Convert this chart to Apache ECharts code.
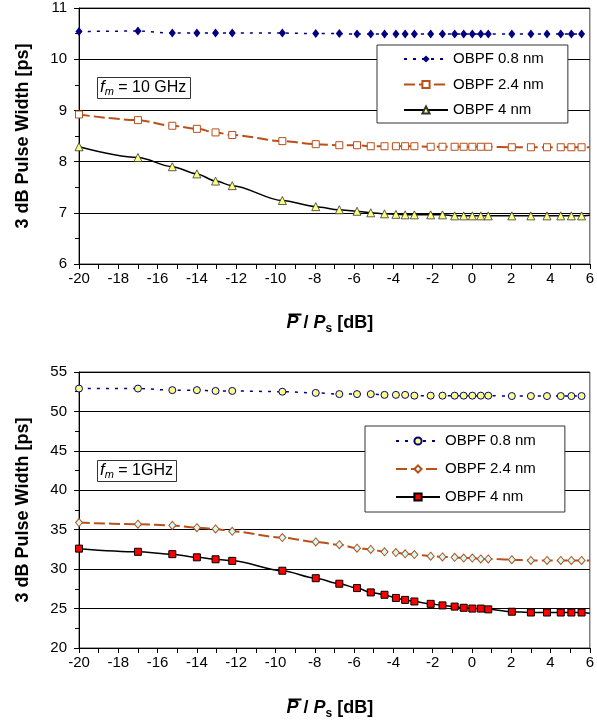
<!DOCTYPE html>
<html>
<head>
<meta charset="utf-8">
<style>
  html, body { margin: 0; padding: 0; background: #fff; }
  #chart { width: 597px; height: 725px; }
</style>
<script src="https://cdn.jsdelivr.net/npm/echarts@6/dist/echarts.min.js"></script>
</head>
<body>
<div id="chart"></div>
<script>
// Average power relative to saturation power, P / Ps [dB]
const pdB = [-20, -17, -15.25, -14, -13.05, -12.2, -9.65, -7.95, -6.75, -5.85,
  -5.15, -4.45, -3.87, -3.4, -2.93, -2.1, -1.5, -0.88, -0.42, 0.02,
  0.45, 0.83, 2.03, 3.0, 3.82, 4.52, 5.06, 5.58];

// 3 dB pulse width [ps], fm = 10 GHz
const w10_08 = [10.54, 10.55, 10.51, 10.51, 10.51, 10.51, 10.51, 10.50, 10.50, 10.49,
  10.49, 10.49, 10.49, 10.49, 10.49, 10.49, 10.49, 10.49, 10.49, 10.49,
  10.49, 10.49, 10.49, 10.49, 10.49, 10.49, 10.49, 10.49];
const w10_24 = [8.92, 8.81, 8.70, 8.64, 8.57, 8.52, 8.40, 8.34, 8.32, 8.32,
  8.30, 8.30, 8.30, 8.30, 8.30, 8.29, 8.29, 8.29, 8.29, 8.29,
  8.29, 8.29, 8.28, 8.28, 8.28, 8.28, 8.28, 8.28];
const w10_40 = [8.29, 8.08, 7.90, 7.76, 7.62, 7.53, 7.24, 7.12, 7.06, 7.03,
  7.00, 6.98, 6.97, 6.96, 6.96, 6.96, 6.96, 6.94, 6.94, 6.94,
  6.94, 6.94, 6.94, 6.94, 6.94, 6.94, 6.94, 6.94];

// 3 dB pulse width [ps], fm = 1 GHz
const w1_08 = [52.9, 52.9, 52.7, 52.7, 52.6, 52.6, 52.5, 52.35, 52.2, 52.2,
  52.2, 52.1, 52.1, 52.1, 52.0, 52.0, 52.0, 52.0, 52.0, 52.0,
  52.0, 52.0, 51.95, 51.95, 51.95, 51.95, 51.95, 51.95];
const w1_24 = [35.9, 35.7, 35.55, 35.25, 35.1, 34.8, 34.0, 33.45, 33.1, 32.65,
  32.5, 32.2, 32.1, 31.95, 31.85, 31.65, 31.55, 31.5, 31.4, 31.4,
  31.3, 31.3, 31.2, 31.1, 31.1, 31.1, 31.1, 31.1];
const w1_40 = [32.6, 32.2, 31.9, 31.5, 31.25, 31.05, 29.8, 28.85, 28.15, 27.6,
  27.05, 26.75, 26.35, 26.1, 25.9, 25.6, 25.4, 25.25, 25.1, 25.0,
  25.0, 24.9, 24.6, 24.5, 24.5, 24.5, 24.5, 24.5];

// Trend lines of the wider filters continue (without a marker) to the axis end
const tailX = 6;
const tail10_24 = 8.28, tail10_40 = 6.95;
const tail1_24 = 31.1, tail1_40 = 24.4;

const seriesNames = ['OBPF 0.8 nm', 'OBPF 2.4 nm', 'OBPF 4 nm'];
const boxLabels = ['10 GHz', '1GHz'];

const FONT = '"Liberation Sans", Arial, sans-serif';
const NAVY = '#000080';
const BROWN = '#B9501A';

function pts(ys, tailY) {
  const d = pdB.map((x, i) => [x, ys[i]]);
  if (tailY !== undefined) d.push({ value: [tailX, tailY], symbol: 'none' });
  return d;
}

function xAxisCfg(gi) {
  return {
    type: 'value', gridIndex: gi, min: -20, max: 6, interval: 2,
    axisLine: { show: true, onZero: false, lineStyle: { color: '#000', width: 1 } },
    axisTick: { show: true, length: 5, lineStyle: { color: '#000' } },
    minorTick: { show: true, splitNumber: 2, length: 5, lineStyle: { color: '#000' } },
    axisLabel: { color: '#000', fontSize: 15, fontFamily: FONT, margin: 7 },
    splitLine: { show: false }
  };
}

function yAxisCfg(gi, min, max, interval) {
  return {
    type: 'value', gridIndex: gi, min: min, max: max, interval: interval,
    name: '3 dB Pulse Width [ps]', nameLocation: 'middle', nameGap: 47,
    nameTextStyle: { color: '#000', fontSize: 18, fontWeight: 'bold', fontFamily: FONT },
    axisLine: { show: true, onZero: false, lineStyle: { color: '#000', width: 1 } },
    axisTick: { show: true, length: 5, lineStyle: { color: '#000' } },
    minorTick: { show: true, splitNumber: 2, length: 4, lineStyle: { color: '#000' } },
    axisLabel: { color: '#000', fontSize: 15, fontFamily: FONT, margin: 12 },
    splitLine: { show: true, lineStyle: { color: '#000', width: 1 } }
  };
}

function legendCfg(names, left, top, gap, pad) {
  return {
    orient: 'vertical', left: left, top: top,
    data: names.map(n => ({ name: n })),
    formatter: n => n.trim(),
    itemWidth: 44, itemHeight: 9, itemGap: gap,
    padding: pad,
    backgroundColor: '#fff', borderColor: '#333', borderWidth: 1, borderRadius: 0,
    textStyle: { color: '#000', fontSize: 15, fontFamily: FONT, lineHeight: 16 },
    selectedMode: false
  };
}

function fmBox(label, left, top) {
  return {
    text: '{f|f}{m|m}{t| = ' + label + '}',
    left: left, top: top,
    padding: [2, 4, 2, 3],
    borderColor: '#333', borderWidth: 1, backgroundColor: '#fff',
    textStyle: {
      fontWeight: 'normal',
      rich: {
        f: { fontSize: 17, fontStyle: 'italic', fontWeight: 'normal', fontFamily: FONT, color: '#000', lineHeight: 19 },
        m: { fontSize: 11, fontStyle: 'italic', fontWeight: 'normal', fontFamily: FONT, color: '#000', lineHeight: 11, verticalAlign: 'bottom' },
        t: { fontSize: 16, fontWeight: 'normal', fontFamily: FONT, color: '#000', lineHeight: 19 }
      }
    }
  };
}

// Axis title "P̄ / Ps [dB]" with an overline drawn over the first P
function xName(left, top) {
  return {
    type: 'group', left: left, top: top,
    children: [
      {
        type: 'text', x: 0, y: 0,
        style: {
          text: '{p|P}{b| / }{p|P}{s|s}{b| [dB]}',
          rich: {
            p: { fontSize: 18, fontWeight: 'bold', fontStyle: 'italic', fontFamily: FONT, fill: '#000', lineHeight: 22 },
            b: { fontSize: 18, fontWeight: 'bold', fontFamily: FONT, fill: '#000', lineHeight: 22 },
            s: { fontSize: 12, fontWeight: 'bold', fontFamily: FONT, fill: '#000', lineHeight: 14, verticalAlign: 'bottom' }
          }
        }
      },
      {
        type: 'line', x: 0, y: 0,
        shape: { x1: 2, y1: 2, x2: 15, y2: 2 },
        style: { stroke: '#000', lineWidth: 2 }
      }
    ]
  };
}

const chart = echarts.init(document.getElementById('chart'), null, { renderer: 'canvas' });

const namesTop = seriesNames;
const namesBottom = seriesNames.map(n => n + ' ');

chart.setOption({
  animation: false,
  backgroundColor: '#fff',
  textStyle: { fontFamily: FONT },
  title: [fmBox(boxLabels[0], 97, 76), fmBox(boxLabels[1], 97, 459)],
  grid: [
    { left: 79, top: 8, width: 512, height: 256, show: true, borderColor: '#404040', borderWidth: 1, backgroundColor: 'transparent' },
    { left: 79, top: 372, width: 511, height: 276, show: true, borderColor: '#404040', borderWidth: 1, backgroundColor: 'transparent' }
  ],
  xAxis: [xAxisCfg(0), xAxisCfg(1)],
  yAxis: [yAxisCfg(0, 6, 11, 1), yAxisCfg(1, 20, 55, 5)],
  legend: [
    legendCfg(namesTop, 377, 45, 9.5, [6, 24, 5, 26]),
    legendCfg(namesBottom, 365, 426, 12, [7, 29, 7, 30])
  ],
  graphic: [xName(286, 312), xName(286, 697)],
  series: [
    {
      name: namesTop[0], type: 'line', xAxisIndex: 0, yAxisIndex: 0,
      data: pts(w10_08), smooth: 0.3, smoothMonotone: 'x',
      symbol: 'diamond', symbolSize: [7, 9],
      itemStyle: { color: NAVY, borderColor: NAVY, borderWidth: 0 },
      lineStyle: { color: NAVY, width: 1.5, type: [3, 6] }
    },
    {
      name: namesTop[1], type: 'line', xAxisIndex: 0, yAxisIndex: 0,
      data: pts(w10_24, tail10_24), smooth: 0.3, smoothMonotone: 'x',
      symbol: 'rect', symbolSize: 7,
      itemStyle: { color: '#fff', borderColor: BROWN, borderWidth: 1 },
      lineStyle: { color: BROWN, width: 2, type: [11, 4] }
    },
    {
      name: namesTop[2], type: 'line', xAxisIndex: 0, yAxisIndex: 0,
      data: pts(w10_40, tail10_40), smooth: 0.3, smoothMonotone: 'x',
      symbol: 'triangle', symbolSize: 8,
      itemStyle: { color: '#FFFF80', borderColor: '#333', borderWidth: 0.8 },
      lineStyle: { color: '#000', width: 1.5, type: 'solid' }
    },
    {
      name: namesBottom[0], type: 'line', xAxisIndex: 1, yAxisIndex: 1,
      data: pts(w1_08), smooth: 0.3, smoothMonotone: 'x',
      symbol: 'circle', symbolSize: 7,
      itemStyle: { color: '#FFFF80', borderColor: NAVY, borderWidth: 1 },
      lineStyle: { color: NAVY, width: 1.5, type: [3, 6] }
    },
    {
      name: namesBottom[1], type: 'line', xAxisIndex: 1, yAxisIndex: 1,
      data: pts(w1_24, tail1_24), smooth: 0.3, smoothMonotone: 'x',
      symbol: 'diamond', symbolSize: [7, 8],
      itemStyle: { color: '#CCFFFF', borderColor: BROWN, borderWidth: 1 },
      lineStyle: { color: BROWN, width: 2, type: [11, 4] }
    },
    {
      name: namesBottom[2], type: 'line', xAxisIndex: 1, yAxisIndex: 1,
      data: pts(w1_40, tail1_40), smooth: 0.3, smoothMonotone: 'x',
      symbol: 'rect', symbolSize: 7,
      itemStyle: { color: '#FF0000', borderColor: '#000', borderWidth: 1 },
      lineStyle: { color: '#000', width: 1.5, type: 'solid' }
    }
  ]
});
</script>
</body>
</html>
